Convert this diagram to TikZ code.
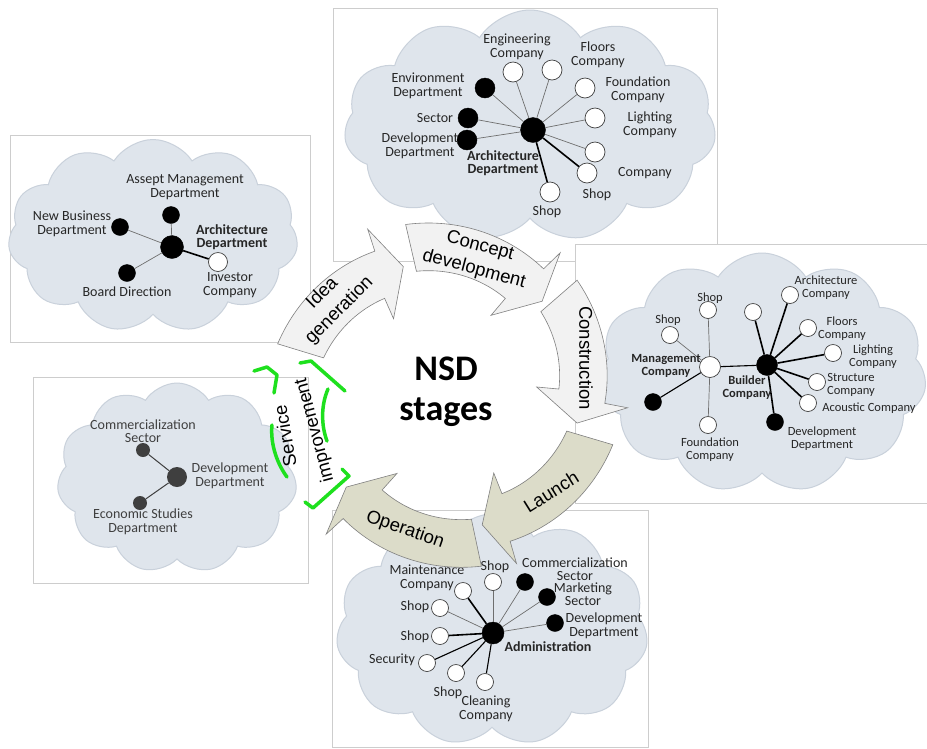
\documentclass[tikz,border=0pt]{standalone}
\usepackage{fontspec}
\setmainfont{Carlito}
\newfontfamily\arialfont{Liberation Sans}
\usetikzlibrary{shapes.symbols,positioning}
\definecolor{frameGray}{HTML}{CDCDCD}
\definecolor{cloudFill}{HTML}{DFE5EC}
\definecolor{cloudEdge}{HTML}{C9D1DB}
\definecolor{stageLight}{HTML}{F2F2F2}
\definecolor{stageKhaki}{HTML}{DCDCC9}
\definecolor{stageLine}{HTML}{808080}
\definecolor{markGreen}{HTML}{1EE01E}
\definecolor{spokeGray}{HTML}{6E6E6E}
\definecolor{hubGray}{HTML}{3F3F3F}

\newcommand{\lblfont}{\fontsize{14}{13.5}\selectfont}
\newcommand{\lblsmall}{\fontsize{12.5}{13}\selectfont}
\newcommand{\stagefont}{\arialfont\fontsize{18.5}{24}\selectfont}
\newcommand{\stagearrow}[4]{%
  \filldraw[stage,fill=#4]
    plot[domain=#1:#2+3,samples=30] (\x:{175-14*(\x-#1)/(#2-#1)})
    -- (#2+4:183) -- (#3:135) -- (#2-5:92)
    -- plot[domain=#2-3:#1,samples=30] (\x:{127-14*(\x-#1)/(#2-#1)})
    -- cycle;}

\tikzset{
  frame/.style={draw=frameGray,line width=0.7pt,fill=white},
  cloudbg/.style={cloud,cloud puffs=11,cloud puff arc=115,cloud ignores aspect,
                  draw=cloudEdge,line width=1pt,fill=cloudFill,inner sep=0pt},
  bnode/.style={circle,fill=black,draw=black,inner sep=0pt,minimum size=#1},
  bnode/.default=20pt,
  wnode/.style={circle,fill=white,draw=hubGray,line width=0.7pt,inner sep=0pt,minimum size=#1},
  wnode/.default=20pt,
  gnode/.style={circle,fill=hubGray,inner sep=0pt,minimum size=#1},
  lbl/.style={font=\lblfont,align=center,inner sep=0pt,text=black!85},
  lblb/.style={lbl,font=\lblfont\bfseries},
  lbls/.style={lbl,font=\lblsmall},
  lblsb/.style={lbl,font=\lblsmall\bfseries},
  spoke/.style={draw=spokeGray,line width=0.7pt},
  midspoke/.style={draw=black,line width=1.1pt},
  bigspoke/.style={draw=black,line width=1.6pt},
  stage/.style={draw=stageLine,line width=0.6pt},
  stagetext/.style={font=\stagefont,inner sep=0pt,align=center},
  greenmark/.style={draw=markGreen,line width=3.5pt,line cap=round,line join=round}
}

\begin{document}
\begin{tikzpicture}[x=1pt,y=-1pt,font=\lblfont]
  \useasboundingbox (0,0) rectangle (927,748);
  \fill[white] (0,0) rectangle (927,748);

  % idea generation: top cloud
  \draw[frame] (333,8) rectangle (717,261);
  \node[cloudbg,minimum width=372pt,minimum height=232pt] (tcloud) at (530,126) {};
  \node[bnode=25pt] (thub) at (533,130) {};
  \node[wnode] (teng) at (513,72) {};
  \node[wnode] (tfloor) at (552,70) {};
  \node[wnode] (tfound) at (585,88) {};
  \node[wnode] (tlight) at (595,118) {};
  \node[wnode] (tcomp) at (595,152) {};
  \node[wnode] (tshopa) at (587,173) {};
  \node[wnode] (tshopb) at (550,192) {};
  \node[bnode] (tenv) at (485,88) {};
  \node[bnode] (tsec) at (468,118) {};
  \node[bnode] (tdev) at (467,140) {};
  \foreach \n in {teng,tfloor,tfound,tlight,tcomp,tenv,tsec,tdev}
    \draw[spoke] (thub) -- (\n);
  \draw[bigspoke] (thub) -- (tshopa);
  \draw[bigspoke] (thub) -- (tshopb);
  \node[lbl] (tengl) at (517,47) {Engineering\\Company};
  \node[lbl] (tfloorl) at (598,55) {Floors\\Company};
  \node[lbl] (tfoundl) at (638,90) {Foundation\\Company};
  \node[lbl] (tlightl) at (650,125) {Lighting\\Company};
  \node[lbl] (tcompl) at (645,173) {Company};
  \node[lbl] (tshopal) at (597,195) {Shop};
  \node[lbl] (tshopbl) at (547,212) {Shop};
  \node[lbl] (tenvl) at (428,86) {Environment\\Department};
  \node[lbl] (tsecl) at (435,118) {Sector};
  \node[lbl] (tdevl) at (420,146) {Development\\Department};
  \node[lblb] (thubl) at (503,163) {Architecture\\Department};

  % construction: right cloud
  \draw[frame] (575,244) rectangle (927,503);
  \node[cloudbg,minimum width=329pt,minimum height=240pt] (rcloud) at (762,373) {};
  \node[wnode=21pt] (rmgmt) at (710,367) {};
  \node[bnode=21pt] (rbuild) at (767,365) {};
  \node[wnode=17pt] (rshopa) at (708,310) {};
  \node[wnode=17pt] (rshopb) at (670,335) {};
  \node[wnode=17pt] (rfound) at (708,425) {};
  \node[bnode=17pt] (rblk) at (653,402) {};
  \node[wnode=17pt] (rwht) at (753,312) {};
  \node[wnode=17pt] (rarch) at (790,295) {};
  \node[wnode=17pt] (rfloor) at (808,328) {};
  \node[wnode=17pt] (rlight) at (833,353) {};
  \node[wnode=17pt] (rstruct) at (817,382) {};
  \node[wnode=17pt] (racou) at (808,403) {};
  \node[bnode=17pt] (rdev) at (775,422) {};
  \foreach \n in {rshopa,rshopb,rfound}
    \draw[spoke] (rmgmt) -- (\n);
  \draw[midspoke] (rmgmt) -- (rblk);
  \draw[midspoke] (rmgmt) -- (rbuild);
  \foreach \n in {rwht,rarch,rfloor,rlight,rstruct,racou,rdev}
    \draw[bigspoke] (rbuild) -- (\n);
  \node[lbls] (rshopal) at (710,298) {Shop};
  \node[lbls] (rshopbl) at (668,320) {Shop};
  \node[lblsb] (rmgmtl) at (666,366) {Management\\Company};
  \node[lblsb] (rbuildl) at (747,388) {Builder\\Company};
  \node[lbls] (rfoundl) at (710,450) {Foundation\\Company};
  \node[lbls] (rarchl) at (826,288) {Architecture\\Company};
  \node[lbls] (rfloorl) at (842,329) {Floors\\Company};
  \node[lbls] (rlightl) at (873,357) {Lighting\\Company};
  \node[lbls] (rstructl) at (851,385) {Structure\\Company};
  \node[lbls] (racoul) at (869,408) {Acoustic Company};
  \node[lbls] (rdevl) at (822,439) {Development\\Department};

  % top left cloud
  \draw[frame] (10,135) rectangle (310,342);
  \node[cloudbg,minimum width=290pt,minimum height=193pt] (lcloud) at (153,236) {};
  \node[bnode=23pt] (lhub) at (172,247) {};
  \node[bnode=17pt] (lasset) at (171,215) {};
  \node[bnode=17pt] (lnew) at (120,227) {};
  \node[bnode=17pt] (lboard) at (127,273) {};
  \node[wnode=19pt] (linv) at (218,262) {};
  \foreach \n in {lasset,lnew,lboard}
    \draw[spoke] (lhub) -- (\n);
  \draw[bigspoke] (lhub) -- (linv);
  \node[lbl] (lassetl) at (185,187) {Assept Management\\Department};
  \node[lbl] (lnewl) at (72,224) {New Business\\Department};
  \node[lblb] (lhubl) at (232,237) {Architecture\\Department};
  \node[lbl] (linvl) at (230,285) {Investor\\Company};
  \node[lbl] (lboardl) at (127,292) {Board Direction};

  % bottom left cloud
  \draw[frame] (33,377) rectangle (308,583);
  \node[cloudbg,minimum width=240pt,minimum height=190pt] (ecloud) at (177,478) {};
  \node[gnode=20pt] (ehub) at (177,477) {};
  \node[gnode=14pt] (ecomm) at (143,450) {};
  \node[gnode=14pt] (eecon) at (140,503) {};
  \draw[draw=hubGray,line width=1pt] (ehub) -- (ecomm);
  \draw[draw=hubGray,line width=1pt] (ehub) -- (eecon);
  \node[lbl,text=hubGray] (ecomml) at (143,431) {Commercialization\\Sector};
  \node[lbl,text=hubGray] (ehubl) at (230,476) {Development\\Department};
  \node[lbl,text=hubGray] (eeconl) at (143,522) {Economic Studies\\Department};

  % operation: bottom cloud
  \draw[frame] (332,510) rectangle (648,747);
  \node[cloudbg,minimum width=312pt,minimum height=232pt] (bcloud) at (492,630) {};
  \node[bnode=22pt] (bhub) at (493,633) {};
  \node[wnode=17pt] (bshopa) at (493,582) {};
  \node[wnode=17pt] (bmaint) at (463,591) {};
  \node[wnode=17pt] (bshopb) at (440,608) {};
  \node[wnode=17pt] (bshopc) at (440,636) {};
  \node[wnode=17pt] (bsecu) at (427,663) {};
  \node[wnode=17pt] (bshopd) at (456,673) {};
  \node[wnode=17pt] (bclean) at (485,682) {};
  \node[bnode=17pt] (bcomm) at (525,582) {};
  \node[bnode=17pt] (bmark) at (547,597) {};
  \node[bnode=17pt] (bdev) at (555,623) {};
  \foreach \n in {bshopa,bshopb,bcomm,bmark,bdev}
    \draw[spoke] (bhub) -- (\n);
  \draw[bigspoke] (bhub) -- (bmaint);
  \draw[bigspoke] (bhub) -- (bshopc);
  \foreach \n in {bsecu,bshopd,bclean}
    \draw[midspoke] (bhub) -- (\n);
  \node[lbl] (bshopal) at (495,567) {Shop};
  \node[lbl] (bmaintl) at (427,578) {Maintenance\\Company};
  \node[lbl] (bshopbl) at (415,607) {Shop};
  \node[lbl] (bshopcl) at (415,637) {Shop};
  \node[lbl] (bsecul) at (392,660) {Security};
  \node[lbl] (bshopdl) at (448,693) {Shop};
  \node[lbl] (bcleanl) at (486,709) {Cleaning\\Company};
  \node[lbl] (bcomml) at (575,569) {Commercialization\\Sector};
  \node[lbl] (bmarkl) at (583,594) {Marketing\\Sector};
  \node[lbl] (bdevl) at (604,626) {Development\\Department};
  \node[lblb] (bhubl) at (548,647) {Administration};

  % NSD stage ring
  \begin{scope}[shift={(445,395)}]
    \stagearrow{197}{241}{252}{stageLight}
    \stagearrow{257}{305}{316}{stageLight}
    \stagearrow{319}{360}{372}{stageLight}
    \stagearrow{16.5}{63}{74}{stageKhaki}
    \stagearrow{78}{126.5}{137}{stageKhaki}
  \end{scope}
  \node[stagetext,rotate=45] (sidea) at (331,302) {Idea\\generation};
  \node[stagetext,rotate=-15] (sconc) at (477,258) {Concept\\development};
  \node[stagetext,rotate=-90] (scons) at (586,358) {Construction};
  \node[stagetext,rotate=32] (slaun) at (551,492) {Launch};
  \node[stagetext,rotate=-19] (soper) at (405,530) {Operation};
  \node[stagetext,rotate=100] (sserv) at (285,436) {Service};
  \node[stagetext,rotate=105] (simpr) at (315,430) {improvement};

  \draw[greenmark] (254,371) -- (267,367) -- (277,375) -- (274,393);
  \draw[greenmark] (272,425) .. controls (270,445) and (278,465) .. (287,477);
  \draw[greenmark] (300,363) -- (311,361) -- (345,391);
  \draw[greenmark] (328,389) .. controls (321,405) and (321,425) .. (327,441);
  \draw[greenmark] (342,469) -- (349,476) -- (313,508) -- (305,502);

  \node[font=\fontsize{36}{40}\selectfont\bfseries,align=center] (nsd) at (446,392) {NSD\\stages};
\end{tikzpicture}
\end{document}
